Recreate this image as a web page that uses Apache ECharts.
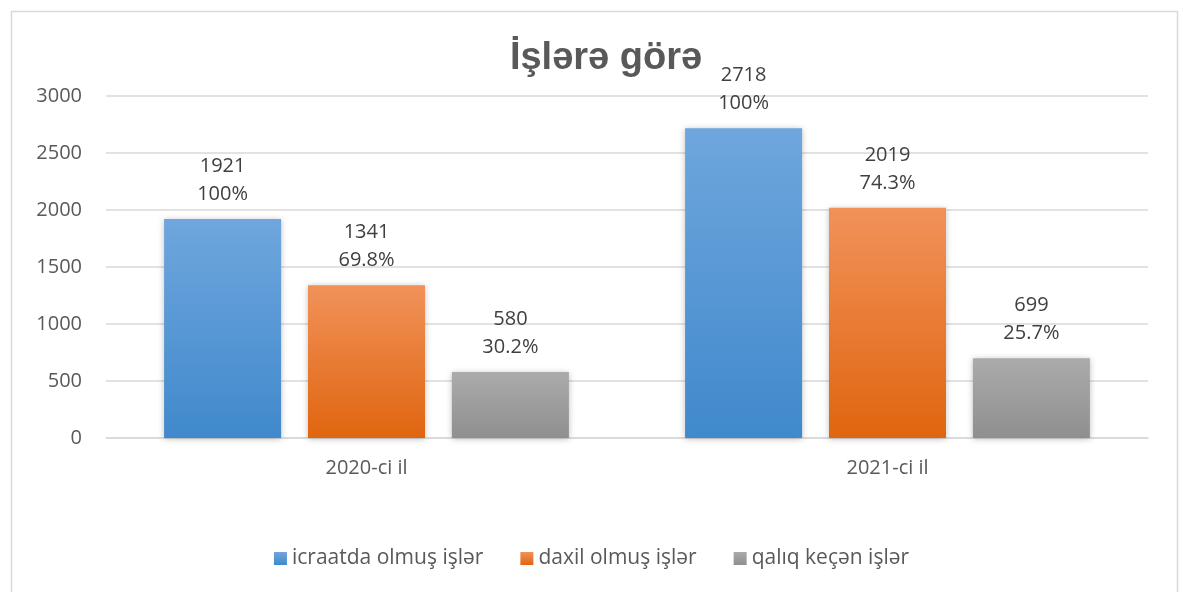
<!DOCTYPE html>
<html><head><meta charset="utf-8">
<script src="https://cdn.jsdelivr.net/npm/echarts@6/dist/echarts.min.js"></script>
<style>html,body{margin:0;padding:0;background:#fff}#c{width:1183px;height:592px}</style>
</head><body><div id="c"></div>
<script>
const categories = ['2020-ci il', '2021-ci il'];
const seriesNames = ['icraatda olmuş işlər', 'daxil olmuş işlər', 'qalıq keçən işlər'];
const icraatda = [1921, 2718];
const daxil = [1341, 2019];
const qaliq = [580, 699];
const icraatdaPct = ['100%', '100%'];
const daxilPct = ['69.8%', '74.3%'];
const qaliqPct = ['30.2%', '25.7%'];
const yTicks = [0, 500, 1000, 1500, 2000, 2500, 3000];

const FONT = 'Open Sans';
function grad(top, bottom) {
  return new echarts.graphic.LinearGradient(0, 0, 0, 1, [
    { offset: 0, color: top }, { offset: 1, color: bottom }
  ]);
}
function mk(name, vals, pcts, c1, c2) {
  return {
    name: name, type: 'bar', barWidth: 117, barGap: '23%',
    data: vals,
    itemStyle: { color: grad(c1, c2), shadowColor: 'rgba(0,0,0,0.25)', shadowBlur: 6, shadowOffsetY: 1 },
    label: {
      show: true, position: 'top', distance: 11,
      formatter: p => vals[p.dataIndex] + '\n' + pcts[p.dataIndex],
      fontFamily: FONT, fontSize: 20, color: '#404040', lineHeight: 28
    }
  };
}
const chart = echarts.init(document.getElementById('c'));
chart.setOption({
  animation: false,
  color: ['#5b9bd5', '#ed7d31', '#a5a5a5'],
  title: {
    text: 'İşlərə görə', left: 601, textAlign: 'center', top: 35,
    textStyle: { fontFamily: 'Liberation Sans', fontWeight: 'bold', fontSize: 38, color: '#595959' }
  },
  graphic: [{
    type: 'rect', left: 9, top: 9, silent: true,
    shape: { width: 1166, height: 600 },
    style: { fill: 'none', stroke: '#d9d9d9', lineWidth: 1.5 }
  }],
  grid: { left: 106, right: 35, top: 96, bottom: 154, containLabel: false },
  legend: {
    bottom: 18, left: 'center', itemWidth: 13, itemHeight: 13, itemGap: 37,
    icon: 'rect',
    textStyle: { fontFamily: FONT, fontSize: 21, color: '#595959' },
    data: seriesNames
  },
  xAxis: {
    type: 'category', data: categories,
    axisLine: { lineStyle: { color: '#d9d9d9', width: 1.5 } },
    axisTick: { show: false },
    axisLabel: { fontFamily: FONT, fontSize: 20, color: '#595959', margin: 20 }
  },
  yAxis: {
    type: 'value', min: yTicks[0], max: yTicks[yTicks.length - 1], interval: yTicks[1] - yTicks[0],
    axisLine: { show: false }, axisTick: { show: false },
    splitLine: { lineStyle: { color: '#d9d9d9', width: 1.5 } },
    axisLabel: { fontFamily: FONT, fontSize: 20, color: '#595959', margin: 24, formatter: v => String(v) }
  },
  series: [
    mk(seriesNames[0], icraatda, icraatdaPct, '#6fa6dd', '#4089cc'),
    mk(seriesNames[1], daxil, daxilPct, '#f1925a', '#e0650f'),
    mk(seriesNames[2], qaliq, qaliqPct, '#ababab', '#8f8f8f')
  ]
});
</script></body></html>
